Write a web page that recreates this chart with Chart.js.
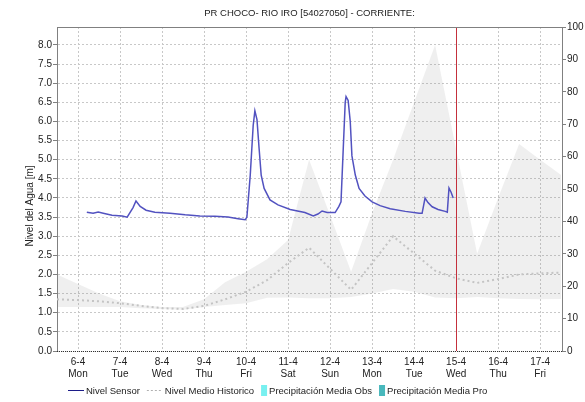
<!DOCTYPE html>
<html>
<head>
<meta charset="utf-8">
<script src="https://cdn.jsdelivr.net/npm/chart.js@4"></script>
<style>
  html, body { margin: 0; padding: 0; background: #fff; }
</style>
</head>
<body>
<canvas id="nivel" width="585" height="402"></canvas>
<script>
const chartTitle = "PR CHOCO- RIO IRO [54027050] - CORRIENTE:";
const yTitle = "Nivel del Agua [m]";
const fontFam = "'Liberation Sans', Arial, sans-serif";

// x axis: days since 6-4
const dayLabels = ['6-4', '7-4', '8-4', '9-4', '10-4', '11-4', '12-4', '13-4', '14-4', '15-4', '16-4', '17-4'];
const weekDays = ['Mon', 'Tue', 'Wed', 'Thu', 'Fri', 'Sat', 'Sun', 'Mon', 'Tue', 'Wed', 'Thu', 'Fri'];
const nowDay = 9;

// Nivel Sensor
const sensorDays = [0.21, 0.36, 0.48, 0.6, 0.81, 1.05, 1.17, 1.31, 1.38, 1.48, 1.62, 1.83, 2.19, 2.55, 2.9, 3.26, 3.57, 3.81, 3.98,
  4.02, 4.1, 4.17, 4.21, 4.26, 4.31, 4.36, 4.43, 4.57, 4.76, 5.05, 5.4, 5.6, 5.71, 5.81, 5.93, 6.12, 6.21, 6.26, 6.31, 6.36, 6.38,
  6.43, 6.48, 6.52, 6.6, 6.69, 6.83, 7.0, 7.19, 7.43, 7.79, 8.12, 8.19, 8.26, 8.33, 8.43, 8.57, 8.74, 8.79, 8.83, 8.88, 8.93];
const sensorLevel = [3.63, 3.6, 3.63, 3.6, 3.55, 3.53, 3.5, 3.75, 3.92, 3.78, 3.68, 3.63, 3.6, 3.56, 3.53, 3.52, 3.5, 3.46, 3.43,
  3.5, 4.6, 5.9, 6.28, 6.05, 5.3, 4.6, 4.25, 3.95, 3.82, 3.7, 3.62, 3.53, 3.58, 3.66, 3.62, 3.62, 3.78, 3.9, 5.2, 6.5, 6.65,
  6.55, 6.0, 5.1, 4.6, 4.25, 4.05, 3.9, 3.8, 3.72, 3.65, 3.6, 3.6, 4.0, 3.88, 3.77, 3.7, 3.65, 3.63, 4.26, 4.15, 4.0];

// historico (medio, maximo, minimo)
const histDays = [-0.5, 0, 0.5, 1, 1.5, 2, 2.5, 3, 3.5, 4, 4.5, 5, 5.5, 6, 6.5, 7, 7.5, 8, 8.5, 9, 9.5, 10, 10.5, 11, 11.5];
const histMean = [1.35, 1.33, 1.3, 1.25, 1.18, 1.12, 1.1, 1.18, 1.35, 1.55, 1.85, 2.3, 2.7, 2.15, 1.6, 2.3, 3.0, 2.55, 2.1, 1.9, 1.78, 1.88, 2.0, 2.03, 2.05];
const histMax = [2.0, 1.75, 1.5, 1.3, 1.2, 1.15, 1.15, 1.35, 1.8, 2.07, 2.4, 2.9, 5.0, 3.55, 2.07, 3.6, 5.0, 6.5, 8.0, 5.27, 2.54, 4.0, 5.41, 5.0, 4.6];
const histMin = [1.15, 1.15, 1.15, 1.15, 1.12, 1.1, 1.08, 1.15, 1.2, 1.25, 1.39, 1.4, 1.38, 1.38, 1.41, 1.5, 1.62, 1.55, 1.4, 1.38, 1.41, 1.38, 1.36, 1.35, 1.36];

// precipitacion (sin datos)
const precipObs = [];
const precipPro = [];

const pts = (xs, ys) => xs.map((d, i) => ({ x: d, y: ys[i] }));

//draws title, y title, now line, frame and legend
const extras = {
  id: 'extras',
  afterDatasetsDraw(chart) {
    const { ctx, chartArea: a, scales } = chart;
    const xNow = Math.round(scales.x.getPixelForValue(nowDay)) + 0.5;
    ctx.save();
    ctx.lineWidth = 1;
    ctx.strokeStyle = '#c4303c';
    ctx.beginPath(); ctx.moveTo(xNow, a.top); ctx.lineTo(xNow, a.bottom); ctx.stroke();
    ctx.strokeStyle = '#808080';
    ctx.beginPath(); ctx.moveTo(a.left, a.top + 0.5); ctx.lineTo(a.right, a.top + 0.5); ctx.stroke();
    ctx.strokeStyle = '#333';
    ctx.setLineDash([1, 1]);
    ctx.beginPath(); ctx.moveTo(a.left, a.bottom + 0.5); ctx.lineTo(a.right, a.bottom + 0.5); ctx.stroke();
    ctx.restore();
  },
  afterDraw(chart) {
    const { ctx, chartArea: a } = chart;
    ctx.save();
    ctx.fillStyle = '#222';
    ctx.font = '9.5px ' + fontFam;
    ctx.textAlign = 'center';
    ctx.textBaseline = 'middle';
    ctx.fillText(chartTitle, (a.left + a.right) / 2, 13);

    ctx.font = '10px ' + fontFam;
    ctx.translate(30, 206);
    ctx.rotate(-Math.PI / 2);
    ctx.fillText(yTitle, 0, 0);
    ctx.restore();

    // legend
    const items = chart.data.datasets.filter(ds => ds.legendKind);
    ctx.save();
    ctx.font = '9.5px ' + fontFam;
    ctx.textBaseline = 'middle';
    const symW = it => it.legendKind === 'box' ? 6 : 16;
    let total = 0;
    items.forEach((it, i) => {
      total += symW(it) + 2 + ctx.measureText(it.label).width + (i < items.length - 1 ? 7 : 0);
    });
    let x = Math.round(277.5 - total / 2);
    const y = 390;
    items.forEach(it => {
      const w = symW(it);
      if (it.legendKind === 'box') {
        ctx.fillStyle = it.backgroundColor;
        ctx.fillRect(x, y - 5, 6, 11);
      } else {
        ctx.strokeStyle = it.legendColor;
        ctx.lineWidth = 1;
        ctx.setLineDash(it.legendKind === 'dots' ? [2, 2] : []);
        ctx.beginPath(); ctx.moveTo(x, y + 0.5); ctx.lineTo(x + w, y + 0.5); ctx.stroke();
        ctx.setLineDash([]);
      }
      x += w + 2;
      ctx.fillStyle = '#222';
      ctx.fillText(it.label, x, y + 1);
      x += ctx.measureText(it.label).width + 7;
    });
    ctx.restore();
  }
};

const tickFont = { family: fontFam, size: 10 };

const nivelChart = new Chart(document.getElementById('nivel'), {
  type: 'line',
  data: {
    datasets: [
      {
        label: 'Nivel Sensor',
        data: pts(sensorDays, sensorLevel),
        borderColor: '#5252c0',
        borderWidth: 1.5,
        pointRadius: 0,
        fill: false,
        legendKind: 'line',
        legendColor: '#1c1c88'
      },
      {
        label: 'Nivel Medio Historico',
        data: pts(histDays, histMean),
        borderColor: '#c4c4c4',
        borderWidth: 2,
        borderDash: [2, 3],
        pointRadius: 0,
        fill: false,
        legendKind: 'dots',
        legendColor: '#b0b0b0'
      },
      {
        type: 'bar',
        label: 'Precipitación Media Obs',
        data: precipObs,
        yAxisID: 'y1',
        backgroundColor: '#78f0f0',
        legendKind: 'box'
      },
      {
        type: 'bar',
        label: 'Precipitación Media Pro',
        data: precipPro,
        yAxisID: 'y1',
        backgroundColor: '#48b8bc',
        legendKind: 'box'
      },
      {
        label: 'min',
        data: pts(histDays, histMin),
        borderWidth: 0,
        pointRadius: 0,
        fill: false
      },
      {
        label: 'max',
        data: pts(histDays, histMax),
        borderWidth: 0,
        pointRadius: 0,
        backgroundColor: 'rgba(130, 130, 130, 0.13)',
        fill: '-1'
      }
    ]
  },
  options: {
    responsive: false,
    animation: false,
    events: [],
    layout: { padding: { top: 27, left: 0, right: 0, bottom: 0 } },
    plugins: {
      legend: { display: false },
      title: { display: false },
      tooltip: { enabled: false }
    },
    scales: {
      x: {
        type: 'linear',
        offset: false,
        min: -0.5,
        max: 11.52,
        afterBuildTicks: s => { s.ticks = dayLabels.map((d, i) => ({ value: i })); },
        afterFit: s => { s.height = 51; },
        grid: { color: '#c8c8c8', drawTicks: false, offset: false },
        border: { display: false, dash: [2, 2] },
        ticks: {
          autoSkip: false,
          maxRotation: 0,
          padding: 5,
          color: '#222',
          font: tickFont,
          callback: v => [dayLabels[v], weekDays[v]]
        }
      },
      y: {
        position: 'left',
        min: 0,
        max: 8.47,
        afterFit: s => { s.width = 57; },
        grid: { color: '#c8c8c8', tickColor: '#808080', tickLength: 4, tickBorderDash: [] },
        border: { color: '#808080', dash: [2, 2] },
        ticks: {
          stepSize: 0.5,
          includeBounds: false,
          padding: 1,
          color: '#222',
          font: tickFont,
          callback: v => v.toFixed(1)
        }
      },
      y1: {
        position: 'right',
        min: 0,
        max: 100,
        afterFit: s => { s.width = 23; },
        grid: { drawOnChartArea: false, tickColor: '#808080', tickLength: 4 },
        border: { color: '#808080' },
        ticks: { stepSize: 10, padding: 1, color: '#222', font: tickFont }
      }
    }
  },
  plugins: [extras]
});
</script>
</body>
</html>
